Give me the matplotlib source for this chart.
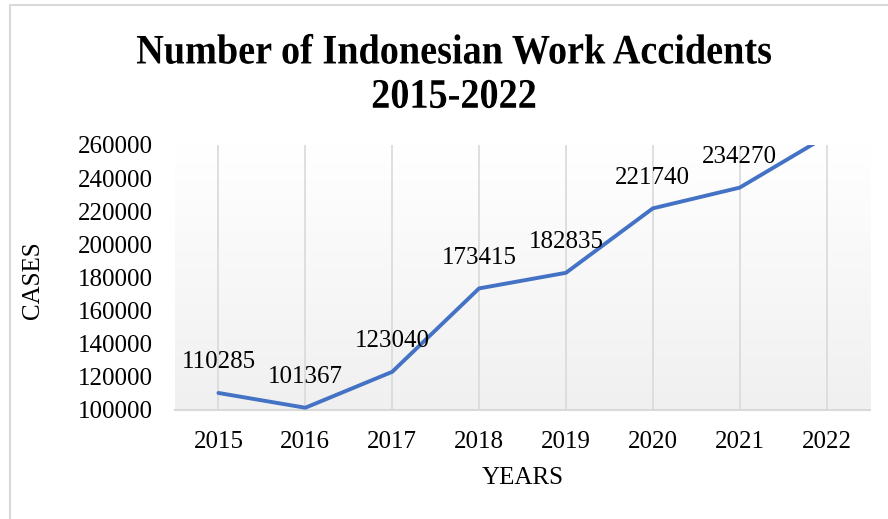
import numpy as np
import matplotlib
matplotlib.use("Agg")
import matplotlib.pyplot as plt
from matplotlib.patches import Rectangle, PathPatch
from matplotlib.textpath import TextPath
from matplotlib.font_manager import FontProperties
from matplotlib.transforms import Affine2D, IdentityTransform

# data
years = ["2015", "2016", "2017", "2018", "2019", "2020", "2021", "2022"]
cases = [110285, 101367, 123040, 173415, 182835, 221740, 234270, 265334]
yticks = [100000, 120000, 140000, 160000, 180000, 200000, 220000, 240000, 260000]
title_lines = ["Number of Indonesian Work Accidents", "2015-2022"]

plt.rcParams['font.family'] = ['Liberation Serif', 'DejaVu Serif']

W, H = 888, 519
fig = plt.figure(figsize=(W / 100, H / 100), dpi=100)
ax = fig.add_axes([175 / W, 1 - 410 / H, 695 / W, 265 / H])

x = np.arange(len(years))

# gradient plot area (white at top -> light gray at bottom)
grad = np.linspace(1.0, 0.0, 256).reshape(-1, 1)
cmap = matplotlib.colors.LinearSegmentedColormap.from_list('g', ['#f0f0f0', '#ffffff'])
ax.imshow(grad, extent=(-0.5, 7.5, 100000, 260000), aspect='auto', cmap=cmap,
          vmin=0, vmax=1, zorder=0, origin='upper')

ax.set_xlim(-0.5, 7.5)
ax.set_ylim(100000, 260000)

for xi in x:
    ax.axvline(xi, color='#d9d9d9', lw=1.2, zorder=1)

ax.plot(x, cases, color='#4472C4', lw=2.8, solid_capstyle='round',
        solid_joinstyle='round', zorder=3)

for xi, v in zip(x, cases):
    if v <= 260000:
        ax.annotate(str(v), (xi, v), xytext=(0, 22), textcoords='offset points',
                    ha='center', va='center', fontsize=18, color='black',
                    annotation_clip=False)

ax.set_xticks(x)
ax.set_xticklabels(years, fontsize=18)
ax.set_yticks(yticks)
ax.set_yticklabels([str(t) for t in yticks], fontsize=18)
ax.tick_params(axis='x', length=0, pad=15)
ax.tick_params(axis='y', length=0, pad=16)

for s in ['top', 'right', 'left']:
    ax.spines[s].set_visible(False)
ax.spines['bottom'].set_color('#d9d9d9')
ax.spines['bottom'].set_linewidth(1.5)

ax.set_xlabel('YEARS', fontsize=18, labelpad=10)
fig.text(33 / W, 1 - 280 / H, 'CASES', rotation=90, ha='center', va='center', fontsize=18)

# title: bold serif, slightly condensed like the original
fp = FontProperties(family='Liberation Serif', weight='bold')
for line, cy in zip(title_lines, [49, 94]):
    tp = TextPath((0, 0), line, size=42, prop=fp)
    ext = tp.get_extents()
    sx = 0.91
    cx_path = (ext.x0 + ext.x1) / 2
    cy_path = (ext.y0 + ext.y1) / 2
    tr = Affine2D().translate(-cx_path, -cy_path).scale(sx, 1.0).translate(W / 2 + 10, H - cy)
    fig.patches.append(PathPatch(tr.transform_path(tp), transform=IdentityTransform(),
                                 facecolor='black', edgecolor='none'))

# chart border
fig.patches.append(Rectangle((10 / W, -0.1), 1.2, 1 - 5 / H + 0.1,
                             transform=fig.transFigure, fill=False,
                             edgecolor='#d9d9d9', lw=1.5))

fig.savefig('out.png', dpi=100)
